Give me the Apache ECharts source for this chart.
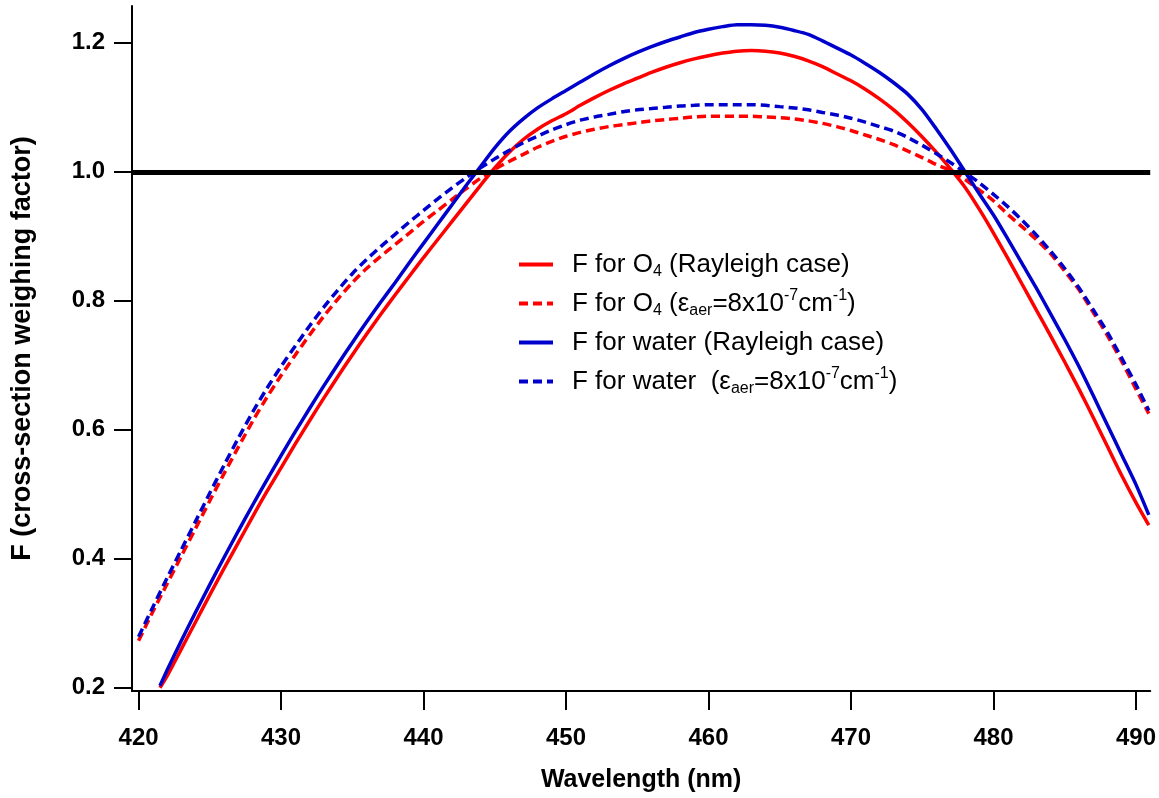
<!DOCTYPE html>
<html>
<head>
<meta charset="utf-8">
<script src="https://cdn.jsdelivr.net/npm/echarts@6/dist/echarts.min.js"></script>
<style>
  html, body { margin: 0; padding: 0; background: #ffffff; overflow: hidden; }
  #chart { width: 1159px; height: 798px; }
</style>
</head>
<body>
<div id="chart"></div>
<script>
// Wavelength grids (nm)
const wlSolid = [421.5, 422, 423, 424, 425, 426, 427, 428, 429, 430, 431, 432, 433, 434, 435, 436, 437, 438, 439, 440,
  441, 442, 443, 444, 445, 446, 447, 448, 449, 450, 451, 452, 453, 454, 455, 456, 457, 458, 459, 460,
  461, 462, 463, 464, 465, 466, 467, 468, 469, 470, 471, 472, 473, 474, 475, 476, 477, 478, 479, 480,
  481, 482, 483, 484, 485, 486, 487, 488, 489, 490, 490.9];
const wlDashed = [420, 421, 422, 423, 424, 425, 426, 427, 428, 429, 430, 431, 432, 433, 434, 435, 436, 437, 438, 439, 440,
  441, 442, 443, 444, 445, 446, 447, 448, 449, 450, 451, 452, 453, 454, 455, 456, 457, 458, 459, 460,
  461, 462, 463, 464, 465, 466, 467, 468, 469, 470, 471, 472, 473, 474, 475, 476, 477, 478, 479, 480,
  481, 482, 483, 484, 485, 486, 487, 488, 489, 490, 490.9];

// F for O4 (Rayleigh case)
const o4Rayleigh = [0.200, 0.218, 0.260, 0.302, 0.344, 0.385, 0.425, 0.465, 0.504, 0.541, 0.578, 0.614, 0.649, 0.683, 0.716, 0.748, 0.779, 0.809, 0.838, 0.867,
  0.895, 0.923, 0.951, 0.979, 1.006, 1.030, 1.050, 1.066, 1.079, 1.090, 1.103, 1.115, 1.126, 1.136, 1.145, 1.154, 1.162, 1.169, 1.175, 1.180,
  1.184, 1.187, 1.188, 1.187, 1.184, 1.179, 1.172, 1.163, 1.152, 1.141, 1.128, 1.113, 1.096, 1.076, 1.054, 1.030, 1.004, 0.976, 0.942, 0.905,
  0.866, 0.826, 0.786, 0.746, 0.705, 0.663, 0.619, 0.574, 0.529, 0.487, 0.452];
// F for water (Rayleigh case)
const waterRayleigh = [0.203, 0.227, 0.273, 0.317, 0.360, 0.402, 0.443, 0.483, 0.522, 0.560, 0.597, 0.633, 0.668, 0.702, 0.735, 0.767, 0.798, 0.828, 0.859, 0.889,
  0.919, 0.949, 0.979, 1.008, 1.037, 1.062, 1.082, 1.099, 1.113, 1.126, 1.139, 1.152, 1.164, 1.175, 1.185, 1.194, 1.202, 1.209, 1.216, 1.221,
  1.225, 1.228, 1.228, 1.227, 1.224, 1.219, 1.213, 1.203, 1.192, 1.181, 1.168, 1.154, 1.138, 1.120, 1.096, 1.066, 1.034, 1.000, 0.966, 0.933,
  0.896, 0.858, 0.820, 0.780, 0.740, 0.698, 0.653, 0.607, 0.561, 0.515, 0.468];
// F for O4 (aerosol case)
const o4Aerosol = [0.273, 0.318, 0.361, 0.404, 0.447, 0.490, 0.532, 0.573, 0.613, 0.650, 0.684, 0.716, 0.747, 0.776, 0.803, 0.828, 0.850, 0.869, 0.887, 0.905, 0.923,
  0.940, 0.957, 0.974, 0.990, 1.004, 1.016, 1.027, 1.038, 1.047, 1.055, 1.061, 1.066, 1.070, 1.073, 1.076, 1.079, 1.081, 1.083, 1.085, 1.086,
  1.086, 1.086, 1.086, 1.085, 1.084, 1.082, 1.079, 1.075, 1.070, 1.064, 1.057, 1.050, 1.042, 1.032, 1.022, 1.011, 1.002, 0.988, 0.972, 0.955,
  0.934, 0.915, 0.895, 0.873, 0.846, 0.817, 0.782, 0.746, 0.706, 0.663, 0.625];
// F for water (aerosol case)
const waterAerosol = [0.279, 0.325, 0.370, 0.414, 0.458, 0.502, 0.545, 0.587, 0.627, 0.664, 0.698, 0.730, 0.761, 0.790, 0.817, 0.842, 0.864, 0.884, 0.903, 0.922, 0.940,
  0.958, 0.975, 0.991, 1.006, 1.020, 1.033, 1.045, 1.055, 1.065, 1.073, 1.080, 1.085, 1.089, 1.093, 1.096, 1.098, 1.100, 1.102, 1.103, 1.104,
  1.104, 1.104, 1.104, 1.103, 1.101, 1.099, 1.096, 1.092, 1.088, 1.083, 1.077, 1.070, 1.063, 1.053, 1.041, 1.028, 1.014, 0.999, 0.983, 0.965,
  0.946, 0.925, 0.902, 0.877, 0.850, 0.820, 0.786, 0.751, 0.711, 0.670, 0.630];

const xTicks = [420, 430, 440, 450, 460, 470, 480, 490];
const yTicks = [0.2, 0.4, 0.6, 0.8, 1.0, 1.2];
const seriesNames = [
  'F for O{sub|4} (Rayleigh case)',
  'F for O{sub|4} (ε{sub|aer}=8x10{sup|-7}cm{sup|-1})',
  'F for water (Rayleigh case)',
  'F for water  (ε{sub|aer}=8x10{sup|-7}cm{sup|-1})'
];
const referenceLevel = 1.0;

const RED = '#FF0000';
const BLUE = '#0000CC';
const FONT = 'Arial, "Liberation Sans", sans-serif';

function pairs(xs, ys) { return xs.map((x, i) => [x, ys[i]]); }

function lineSeries(name, xs, ys, color, dashed) {
  return {
    name: name,
    type: 'line',
    data: pairs(xs, ys),
    showSymbol: false,
    symbol: 'none',
    smooth: 0.25,
    silent: true,
    lineStyle: { color: color, width: 3.5, type: dashed ? [9, 5] : 'solid' },
    itemStyle: { color: color },
    z: 3
  };
}

const el = document.getElementById('chart');
const chart = echarts.init(el, null, { renderer: 'canvas', width: 1159, height: 798 });

const series = [
  lineSeries(seriesNames[0], wlSolid, o4Rayleigh, RED, false),
  lineSeries(seriesNames[1], wlDashed, o4Aerosol, RED, true),
  lineSeries(seriesNames[2], wlSolid, waterRayleigh, BLUE, false),
  lineSeries(seriesNames[3], wlDashed, waterAerosol, BLUE, true)
];
series[3].markLine = {
  silent: true,
  symbol: 'none',
  label: { show: false },
  lineStyle: { color: '#000', width: 5, type: 'solid' },
  data: [{ yAxis: referenceLevel }]
};
series[3].z = 4;

const richLegend = {
  sub: { fontSize: 16, fontFamily: FONT, color: '#000', verticalAlign: 'bottom', lineHeight: 16 },
  sup: { fontSize: 16, fontFamily: FONT, color: '#000', verticalAlign: 'top', lineHeight: 16 }
};

chart.setOption({
  animation: false,
  backgroundColor: '#ffffff',
  grid: { left: 132, width: 1020, top: 6, height: 688, containLabel: false },
  legend: {
    orient: 'vertical',
    left: 512,
    top: 244,
    itemWidth: 34,
    itemHeight: 14,
    itemGap: 8,
    selectedMode: false,
    itemStyle: { opacity: 0 },
    lineStyle: { width: 4 },
    textStyle: {
      fontFamily: FONT,
      fontSize: 26,
      color: '#000',
      lineHeight: 31,
      padding: [0, 0, 0, 14],
      rich: richLegend
    },
    data: seriesNames
  },
  xAxis: {
    type: 'value',
    min: 419.54,
    max: 491.0,
    name: 'Wavelength (nm)',
    nameLocation: 'middle',
    nameGap: 77,
    nameTextStyle: { fontFamily: FONT, fontSize: 25, fontWeight: 'bold', color: '#000' },
    axisLine: { show: true, onZero: false, lineStyle: { color: '#000', width: 2 } },
    axisTick: { show: true, inside: false, length: 19, customValues: xTicks, lineStyle: { color: '#000', width: 2 } },
    axisLabel: { show: true, customValues: xTicks, margin: 35, fontFamily: FONT, fontSize: 24, fontWeight: 'bold', color: '#000',
      formatter: v => String(Math.round(v)) },
    splitLine: { show: false }
  },
  yAxis: {
    type: 'value',
    min: 0.195,
    max: 1.257,
    name: 'F (cross-section weighing factor)',
    nameLocation: 'middle',
    nameRotate: 90,
    nameGap: 96,
    nameTextStyle: { fontFamily: FONT, fontSize: 27, fontWeight: 'bold', color: '#000' },
    axisLine: { show: true, onZero: false, lineStyle: { color: '#000', width: 2 } },
    axisTick: { show: true, inside: false, length: 18, customValues: yTicks, lineStyle: { color: '#000', width: 2 } },
    axisLabel: { show: true, customValues: yTicks, margin: 27, fontFamily: FONT, fontSize: 24, fontWeight: 'bold', color: '#000',
      formatter: v => v.toFixed(1) },
    splitLine: { show: false }
  },
  series: series
});
</script>
</body>
</html>
